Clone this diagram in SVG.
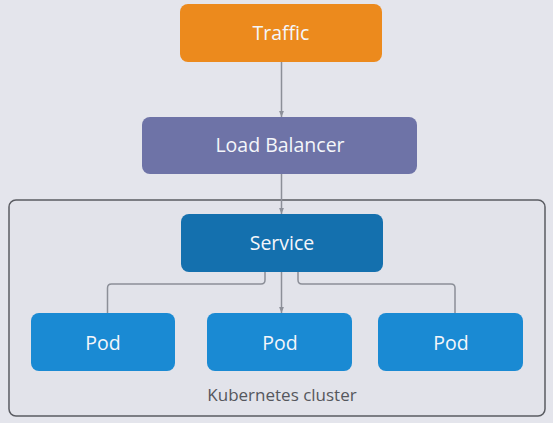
<svg xmlns="http://www.w3.org/2000/svg" width="553" height="423" viewBox="0 0 553 423">
<defs>
<style>
.lbl{font-family:"Open Sans","Noto Sans",sans-serif;font-size:19.5px;fill:#f4f6fa;text-anchor:middle;dominant-baseline:central}
.con{fill:none;stroke:#8c8f98;stroke-width:1.5}
.pod{fill:#1a8ad3}
</style>
<marker id="ah" viewBox="0 0 10 10" refX="10" refY="5" markerWidth="6" markerHeight="6" orient="auto" markerUnits="userSpaceOnUse">
<path d="M0,1 L10,5 L0,9 z" fill="#8c8f98"/>
</marker>
</defs>
<rect width="553" height="423" fill="#e4e5ec"/>
<g id="cluster">
<rect x="9" y="200" width="536" height="216" rx="7" fill="#e2e3ea" stroke="#5a5c62" stroke-width="1.5"/>
<text x="282" y="394" font-family="'Open Sans','Noto Sans',sans-serif" font-size="17" fill="#55575d" text-anchor="middle" dominant-baseline="central">Kubernetes cluster</text>
</g>
<g id="connectors">
<path class="con" d="M281.5,62 V117" marker-end="url(#ah)"/>
<path class="con" d="M281.5,174 V214" marker-end="url(#ah)"/>
<path class="con" d="M265,272 V280 Q265,284 261,284 H111.5 Q107.5,284 107.5,288 V313"/>
<path class="con" d="M281.5,272 V313" marker-end="url(#ah)"/>
<path class="con" d="M298,272 V280 Q298,284 302,284 H451 Q455,284 455,288 V313"/>
</g>
<g id="traffic">
<rect x="180" y="4" width="202" height="58" rx="8" fill="#ec8a1d"/>
<text class="lbl" x="281" y="32">Traffic</text>
</g>
<g id="loadbalancer">
<rect x="142" y="117" width="275" height="57" rx="8" fill="#6e73a7"/>
<text class="lbl" x="280" y="144">Load Balancer</text>
</g>
<g id="service">
<rect x="181" y="214" width="202" height="58" rx="8" fill="#1470ae"/>
<text class="lbl" x="282" y="242">Service</text>
</g>
<g id="pod1">
<rect class="pod" x="31" y="313" width="144" height="58" rx="8"/>
<text class="lbl" x="103" y="342">Pod</text>
</g>
<g id="pod2">
<rect class="pod" x="207" y="313" width="145" height="58" rx="8"/>
<text class="lbl" x="280" y="342">Pod</text>
</g>
<g id="pod3">
<rect class="pod" x="378" y="313" width="145" height="58" rx="8"/>
<text class="lbl" x="451" y="342">Pod</text>
</g>
</svg>
